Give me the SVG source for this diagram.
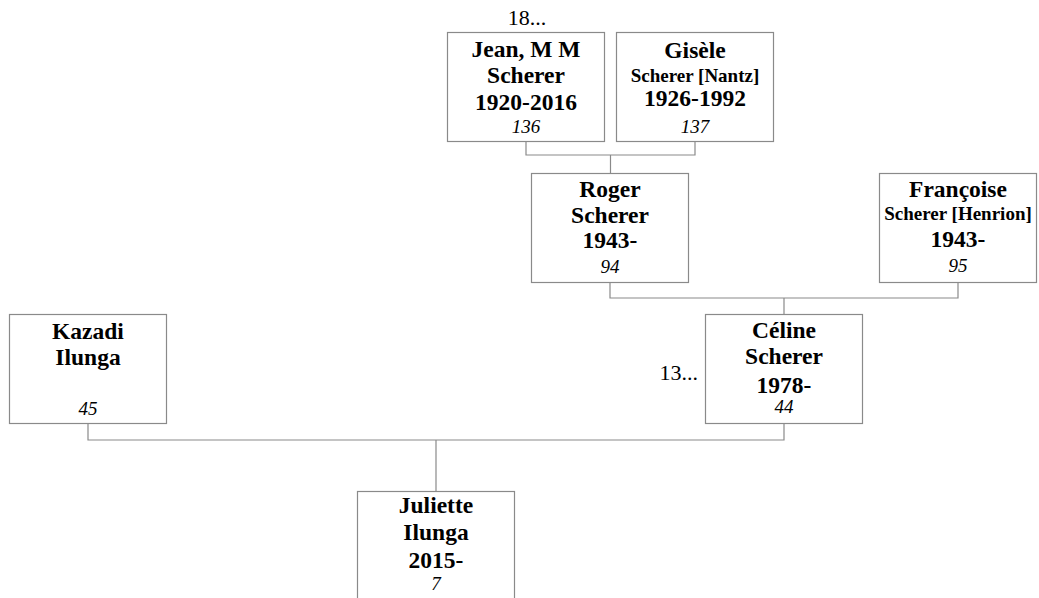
<svg xmlns="http://www.w3.org/2000/svg" width="1039" height="598" viewBox="0 0 1039 598">
<style>
.box{fill:#fff;stroke:#8a8a8a;stroke-width:1.2}
.ln{fill:none;stroke:#8a8a8a;stroke-width:1.2}
text{font-family:"Liberation Serif","Times New Roman",serif;text-anchor:middle;fill:#000}
.b{font-weight:bold;font-size:23.5px}
.s{font-weight:bold;font-size:19px}
.i{font-style:italic;font-size:19px}
.r{font-size:22px}
</style>
<rect width="1039" height="598" fill="#fff"/>
<g id="connectors">
<path class="ln" d="M526,142V155H695V142M610.5,155V173"/>
<path class="ln" d="M610,283V298H958V283M784,298V314"/>
<path class="ln" d="M88,424V440H784V424M436,440V491"/>
</g>
<g id="n136">
<rect class="box" x="447.5" y="32.5" width="157" height="109"/>
<text class="b" x="526" y="57">Jean, M M</text>
<text class="b" x="526" y="83">Scherer</text>
<text class="b" x="526" y="110">1920-2016</text>
<text class="i" x="526" y="133">136</text>
<text class="r" x="527" y="25">18...</text>
</g>
<g id="n137">
<rect class="box" x="616.5" y="32.5" width="157" height="109"/>
<text class="b" x="695" y="58">Gisèle</text>
<text class="s" x="695" y="82">Scherer [Nantz]</text>
<text class="b" x="695" y="106">1926-1992</text>
<text class="i" x="695" y="133">137</text>
</g>
<g id="n94">
<rect class="box" x="531.5" y="173.5" width="157" height="109"/>
<text class="b" x="610" y="197">Roger</text>
<text class="b" x="610" y="223">Scherer</text>
<text class="b" x="610" y="248">1943-</text>
<text class="i" x="610" y="273">94</text>
</g>
<g id="n95">
<rect class="box" x="879.5" y="173.5" width="157" height="109"/>
<text class="b" x="958" y="197">Françoise</text>
<text class="s" x="958" y="220">Scherer [Henrion]</text>
<text class="b" x="958" y="247">1943-</text>
<text class="i" x="958" y="272">95</text>
</g>
<g id="n45">
<rect class="box" x="9.5" y="314.5" width="157" height="109"/>
<text class="b" x="88" y="339">Kazadi</text>
<text class="b" x="88" y="365">Ilunga</text>
<text class="i" x="88" y="415">45</text>
</g>
<g id="n44">
<rect class="box" x="705.5" y="314.5" width="157" height="109"/>
<text class="b" x="784" y="338">Céline</text>
<text class="b" x="784" y="364">Scherer</text>
<text class="b" x="784" y="393">1978-</text>
<text class="i" x="784" y="413">44</text>
<text class="r" x="698" y="380" style="text-anchor:end">13...</text>
</g>
<g id="n7">
<rect class="box" x="357.5" y="491.5" width="157" height="109"/>
<text class="b" x="436" y="513">Juliette</text>
<text class="b" x="436" y="540">Ilunga</text>
<text class="b" x="436" y="568">2015-</text>
<text class="i" x="436" y="590">7</text>
</g>
</svg>
